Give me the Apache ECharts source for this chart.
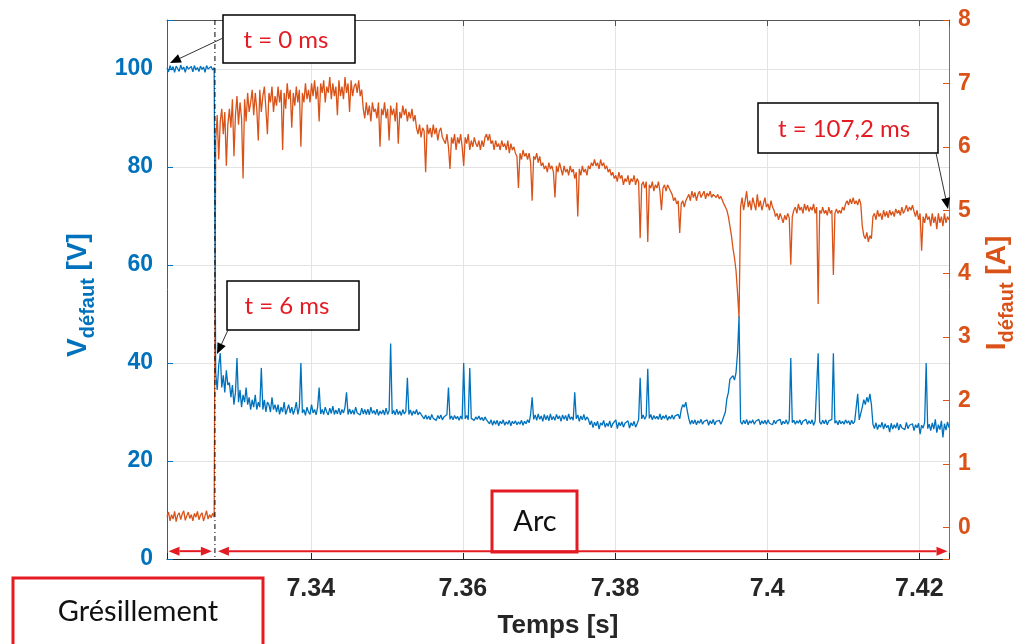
<!DOCTYPE html>
<html><head><meta charset="utf-8">
<script src="https://cdn.jsdelivr.net/npm/echarts@6/dist/echarts.min.js"></script>
<style>html,body{margin:0;padding:0;background:#fff}#c{width:1025px;height:644px}</style>
</head><body><div id="c"></div>
<script>
// Sampling of the recorded signals (s)
const tStart = 7.3211;
const tStep = 0.0002;
const transitionT = 7.3274;

// Fault current I_défaut [A] (right axis)
const current = [
0.17,0.24,0.1,0.2,0.13,0.25,0.09,0.19,0.23,0.12,
0.21,0.26,0.11,0.18,0.24,0.14,0.2,0.1,0.22,0.16,
0.25,0.12,0.19,0.23,0.1,0.18,0.26,0.13,0.2,0.15,
0.22,0.16,
6.1,6.5,5.8,6.4,6.6,6.2,6.55,5.7,6.35,6.6,
6.3,6.75,5.85,6.5,6.8,6.35,6.7,6.45,5.5,6.75,
6.4,6.85,6.55,6.7,6.9,6.5,6.85,6.6,6.1,6.9,
6.55,6.8,6.95,6.6,6.2,6.85,6.7,6.95,6.55,6.8,
6.65,6.95,6.7,6.9,5.95,6.85,6.6,7.0,6.75,6.9,
6.3,6.85,6.65,6.95,6.7,6.9,6.0,6.85,6.7,7.0,
6.75,6.9,6.7,7.0,6.8,7.05,6.75,6.95,6.4,7.0,
6.85,7.05,6.7,6.95,6.85,7.1,6.75,7.0,6.8,6.95,
6.5,7.05,6.8,6.95,6.75,7.1,6.85,7.0,6.55,7.05,
6.8,6.95,7.0,6.85,7.05,6.8,6.9,6.6,6.45,6.7,
6.5,6.65,6.4,6.7,6.55,6.6,6.45,6.7,6.0,6.6,
6.5,6.7,6.45,6.6,6.1,6.65,6.5,6.6,6.4,6.7,
6.05,6.55,6.45,6.65,6.5,6.6,6.4,6.55,6.45,6.6,
6.4,6.5,6.3,6.2,6.35,6.15,6.3,6.25,5.6,6.35,
6.2,6.3,6.15,6.35,6.2,6.3,6.1,6.25,6.3,6.15,
6.15,6.05,6.2,6.0,5.65,6.15,6.05,6.2,5.95,6.15,
6.05,6.2,6.0,5.7,6.15,6.05,6.2,5.95,6.1,6.0,
6.15,6.05,6.0,6.1,5.95,6.1,6.0,6.15,6.2,6.1,
6.2,6.05,6.1,5.95,6.1,6.0,6.05,5.95,6.1,6.0,
6.05,5.95,6.1,5.9,6.05,5.95,6.0,5.9,5.85,5.35,
5.9,5.8,5.95,5.85,5.9,5.8,5.9,5.75,5.15,5.85,
5.8,5.9,5.75,5.85,5.7,5.75,5.65,5.7,5.6,5.75,
5.65,5.7,5.6,5.2,5.7,5.6,5.75,5.65,5.55,5.7,
5.6,5.65,5.55,5.7,5.6,5.65,5.5,5.6,4.9,5.65,
5.55,5.7,5.6,5.65,5.55,5.7,5.65,5.75,5.7,5.8,
5.7,5.75,5.65,5.8,5.7,5.75,5.65,5.7,5.6,5.65,
5.55,5.6,5.5,5.55,5.45,5.6,5.5,5.55,5.4,5.5,
5.45,5.55,5.4,5.5,5.45,5.55,5.4,5.5,5.45,4.56,
5.4,5.45,5.35,5.45,4.5,5.4,5.35,5.45,5.3,5.4,
5.35,5.45,5.3,5.0,5.35,5.4,5.3,5.4,5.35,5.3,
5.25,5.15,5.2,5.1,5.15,4.64,5.1,5.15,5.05,5.15,
5.2,5.25,5.15,5.3,5.2,5.28,5.15,5.25,5.3,5.2,
5.25,5.3,5.18,5.27,5.22,5.3,5.2,5.25,5.28,5.2,
5.25,5.18,5.22,5.2,5.1,5.05,5.0,4.9,4.75,4.6,
4.4,4.25,4.05,3.7,3.3,5.05,5.2,5.0,5.15,5.3,
5.05,5.15,5.0,5.2,5.1,5.0,5.25,5.05,5.15,5.0,
5.1,5.2,5.05,5.1,5.0,5.15,5.05,5.0,4.9,4.95,
4.85,4.95,4.88,4.8,4.92,4.85,4.95,4.88,4.14,4.9,
5.0,5.05,4.95,5.1,5.0,5.05,4.95,5.1,5.0,5.08,
4.98,5.05,5.0,5.1,4.95,5.05,3.52,5.0,4.95,5.05,
4.95,5.0,4.92,5.05,4.95,5.0,3.98,4.95,5.02,4.95,
5.0,4.95,5.05,5.0,5.1,5.15,5.08,5.18,5.1,5.2,
5.1,5.15,5.08,5.18,5.1,4.75,4.6,4.55,4.65,4.5,
4.6,4.55,4.9,4.95,4.85,5.0,4.9,4.95,4.85,5.0,
4.9,4.98,4.88,5.0,4.92,4.98,4.9,5.02,4.95,5.0,
4.92,5.05,4.95,5.0,5.08,4.98,5.05,5.0,5.08,4.98,
4.9,5.0,4.85,4.95,4.36,4.9,4.8,4.95,4.85,4.9,
4.75,4.95,4.8,4.9,4.7,4.95,4.8,4.9,4.75,4.95,
4.8,4.9,4.85
];

// Fault voltage V_défaut [V] (left axis)
const voltage = [
100.2,99.4,100.7,99.8,100.5,99.3,100.6,100.1,99.5,100.8,
99.9,100.4,99.3,100.6,100,99.6,100.5,99.4,100.7,99.8,
100.3,99.5,100.6,99.9,100.4,99.3,100.7,100,99.6,100.5,
99.8,100.3,
38,34.5,39.5,42,35,37.5,34,38.5,35.5,36,
33,35.5,31.5,34,41,32,34.5,31,33.5,32,
35,31.5,33,30.5,32.5,31,33.5,30.5,32,31,
39,30.5,32.5,30,32,31.5,30,33,30.5,31.5,
30,31.5,29.5,31,30,32,29.5,30.5,31.5,29.8,
31,29.5,30.5,32,29.5,31,40,29.8,30.5,29.3,
31,30,29.5,31.5,29.8,30.5,29.4,31,35,29.6,
30.5,29.5,31,30,29.4,30.8,29.7,31.2,29.5,30.4,
29.6,30.8,29.4,30.5,29.8,31,34,29.5,30.6,29.6,
30.4,29.5,31,29.8,30.2,29.4,30.8,29.6,30.5,29.5,
30.6,29.4,31,29.7,30.3,29.5,30.6,29.3,30.2,29.6,
30.4,29.4,30.8,29.5,30.2,44,29.6,30.3,29.4,30.6,
29.5,30.2,29.3,30.5,29.6,30.1,37,29.5,30.4,29.3,
30.2,29.6,30.5,29.4,30,29.5,29.2,28.6,29.4,28.5,
29.2,28.4,29.5,28.7,29.1,28.3,29.3,28.6,29.4,28.4,
29,28.6,29.5,35,28.5,29.2,28.4,29.3,28.6,29.1,
28.3,29.2,28.5,40,28.6,29.3,28.4,39,28.7,29.1,
28.3,29,28.5,29.2,28.4,28.9,28.2,29,28.4,28.8,
27.6,28.4,27.3,28.2,27.5,28.3,27.2,28.1,27.6,28.4,
27.3,28,27.5,28.3,27.2,28.1,27.6,28.2,27.4,28,
27.5,28.3,27.3,28.1,27.6,28.4,27.8,29.5,33,28.5,
29.4,28.3,29.6,28.5,29.2,28.1,29.5,28.4,29.3,28.2,
29.6,28.4,29.1,28.3,29.5,28.6,29.2,28.1,29.4,28.5,
29.3,28.2,29.6,28.5,29,28.3,34,28.6,29.4,28.1,
29.2,28.4,29.5,28.3,29,28.5,27.4,28.2,26.8,27.9,
27.2,28.1,26.5,27.8,27.3,28.3,26.9,27.7,27.1,28.2,
26.8,27.6,27.3,28.4,26.6,27.9,27.2,28,26.9,27.7,
27.4,28.2,26.7,27.8,27.2,28.1,26.9,27.6,28.5,37,
28.6,29.4,28.5,29.2,38.8,28.7,29.5,28.4,29.3,28.6,
29.1,28.5,29.6,28.4,29.2,28.7,29.4,28.3,29.1,28.6,
29.4,28.5,29.2,28.8,29.5,28.6,30.5,31.5,31,32,
30.2,28.6,27.5,28.3,27.6,28.4,27.4,28.2,27.7,28.5,
27.5,28.1,27.7,28.4,27.3,28.2,27.6,28.5,27.4,28.1,
27.7,28.3,27.5,28.2,28.6,30,32.7,34,36.7,37,
37.4,36.5,38,42,49.5,28,27.5,28.3,27.6,28.5,
27.4,28.2,27.7,28.4,27.5,28.1,27.8,28.5,27.4,28.2,
27.6,28.3,27.5,28.4,27.7,28.1,27.4,28.3,27.6,28.2,
27.8,28.5,27.4,28.1,27.6,28.4,27.5,28.2,41,27.8,
28.3,27.5,28.2,27.7,28.4,27.4,28.1,27.8,28.5,27.5,
28.2,27.6,28.4,27.3,28.1,27.7,42,28,27.5,28.3,
27.6,28.4,27.4,28.2,27.8,28.5,42,27.7,28.2,27.4,
28.3,27.6,28.1,27.5,28.4,27.7,28.2,27.4,28.3,27.6,
28.1,27.8,33.7,28.4,28.6,31,32.5,31.5,33,32,
33.7,31.5,27.5,26.6,27.8,26.4,27.4,26.9,27.9,26.5,
27.6,26.8,27.3,25.9,27.7,26.5,27.4,26.7,27.8,26.3,
27.5,26.8,27.2,26.4,27.9,26.6,27.3,26.9,27.6,26.2,
27.4,26.8,27.7,25.5,27.3,26.7,27.9,40,26.6,27.5,
26.2,27.8,26.5,28.5,25.8,27.4,26.4,28.2,24.8,27.6,
26.3,28,26.8
];

// Phase arrows (time spans, s) and their height on the voltage axis
const spanGresillement = [7.3213, 7.3270];
const spanArc = [7.3278, 7.4237];
const arrowLevel = 1.6;

const BLUE = '#0072BD', ORANGE = '#D95319', DARK = '#262626', RED = '#e31b23', GRID = '#e3e3e3';
const n = Math.min(voltage.length, current.length);
const times = [];
for (let i = 0; i < n; i++) times.push(+(tStart + i * tStep).toFixed(5));
const tEnd = times[n - 1];
const vData = times.map((t, i) => [t, voltage[i]]);
const iData = times.map((t, i) => [t, current[i]]);

function head(x1, y1, x2, y2, color, len, hw) {
  const dx = x2 - x1, dy = y2 - y1, L = Math.hypot(dx, dy), ux = dx / L, uy = dy / L;
  const bx = x2 - ux * len, by = y2 - uy * len;
  return {base: [bx, by], el: {type: 'polygon', z: 100, shape: {points: [[x2, y2], [bx - uy * hw, by + ux * hw], [bx + uy * hw, by - ux * hw]]}, style: {fill: color}}};
}
function arrow(x1, y1, x2, y2) {
  const h = head(x1, y1, x2, y2, '#000', 11, 4.5);
  return [{type: 'line', z: 100, shape: {x1, y1, x2: h.base[0], y2: h.base[1]}, style: {stroke: '#333', lineWidth: 1}}, h.el];
}
function doubleArrow(p1, p2, color) {
  const h1 = head(p2[0], p2[1], p1[0], p1[1], color, 11, 4.5);
  const h2 = head(p1[0], p1[1], p2[0], p2[1], color, 11, 4.5);
  return [{type: 'line', z: 100, shape: {x1: h1.base[0], y1: h1.base[1], x2: h2.base[0], y2: h2.base[1]}, style: {stroke: color, lineWidth: 2}}, h1.el, h2.el];
}
function box(x, y, w, h, stroke, lw) {
  return {type: 'rect', z: 99, shape: {x, y, width: w, height: h}, style: {fill: '#fff', stroke, lineWidth: lw}};
}
function label(x, y, text, color, size) {
  return {type: 'text', z: 101, x, y, style: {text, fill: color, fontFamily: 'Lato', fontSize: size, align: 'center', verticalAlign: 'middle'}};
}
function axisTitle(x, y, main, sub, unit, color) {
  return {type: 'text', z: 101, x, y, rotation: Math.PI / 2,
    style: {text: '{a|' + main + '}{b|' + sub + '}{a| ' + unit + '}', align: 'center', verticalAlign: 'middle',
      rich: {
        a: {fill: color, fontSize: 28, fontWeight: 'bold', fontFamily: 'Liberation Sans', lineHeight: 40, verticalAlign: 'middle'},
        b: {fill: color, fontSize: 20, fontWeight: 'bold', fontFamily: 'Liberation Sans', lineHeight: 14, verticalAlign: 'bottom'}
      }}};
}

const chart = echarts.init(document.getElementById('c'), null, {renderer: 'canvas'});
const xCommon = {type: 'value', min: tStart, max: tEnd, minInterval: 0.02, maxInterval: 0.02, splitNumber: 5};
chart.setOption({
  animation: false,
  backgroundColor: '#fff',
  grid: {left: 167, right: 76, top: 20, bottom: 79},
  xAxis: [
    Object.assign({}, xCommon, {
      position: 'bottom',
      axisLine: {show: true, onZero: false, lineStyle: {color: DARK, width: 1}},
      axisTick: {show: true, inside: true, length: 6, lineStyle: {color: DARK}},
      axisLabel: {color: DARK, fontSize: 25, fontWeight: 'bold', fontFamily: 'Liberation Sans', margin: 18,
        formatter: v => Math.abs(v / 0.02 - Math.round(v / 0.02)) < 1e-6 ? String(+v.toFixed(2)) : ''},
      splitLine: {show: true, lineStyle: {color: GRID, width: 1}},
      name: 'Temps [s]', nameLocation: 'middle', nameGap: 54,
      nameTextStyle: {color: DARK, fontSize: 26, fontWeight: 'bold', fontFamily: 'Liberation Sans'}
    }),
    Object.assign({}, xCommon, {
      position: 'top',
      axisLine: {show: true, onZero: false, lineStyle: {color: '#555', width: 1}},
      axisTick: {show: true, inside: true, length: 6, lineStyle: {color: '#555'}},
      axisLabel: {show: false},
      splitLine: {show: false}
    })
  ],
  yAxis: [
    {type: 'value', position: 'left', min: 0, max: 110, interval: 20,
      axisLine: {show: true, lineStyle: {color: BLUE, width: 1}},
      axisTick: {show: true, inside: true, length: 6, lineStyle: {color: BLUE}},
      axisLabel: {color: BLUE, fontSize: 23, fontWeight: 'bold', fontFamily: 'Liberation Sans', margin: 14,
        formatter: v => v > 105 ? '' : String(v)},
      splitLine: {show: true, lineStyle: {color: GRID, width: 1}}},
    {type: 'value', position: 'right', min: -0.5, max: 8, minInterval: 1, maxInterval: 1, splitNumber: 8,
      axisLine: {show: true, lineStyle: {color: ORANGE, width: 1}},
      axisTick: {show: true, inside: true, length: 6, lineStyle: {color: ORANGE}},
      axisLabel: {color: ORANGE, fontSize: 23, fontWeight: 'bold', fontFamily: 'Liberation Sans', margin: 9,
        formatter: v => v < 0 ? '' : String(v)},
      splitLine: {show: false}}
  ],
  series: [
    {type: 'line', name: 'I', xAxisIndex: 0, yAxisIndex: 1, data: iData, showSymbol: false, symbol: 'none',
      sampling: null, lineStyle: {color: ORANGE, width: 1.3}, itemStyle: {color: ORANGE}, silent: true},
    {type: 'line', name: 'V', xAxisIndex: 0, yAxisIndex: 0, data: vData, showSymbol: false, symbol: 'none',
      sampling: null, lineStyle: {color: BLUE, width: 1.3}, itemStyle: {color: BLUE}, silent: true}
  ]
});

// Positions on the plot, obtained from the chart's own scales
const px = (t, v) => chart.convertToPixel({xAxisIndex: 0, yAxisIndex: 0}, [t, v]);
const lineTop = px(transitionT, 110), lineBot = px(transitionT, 0);
chart.setOption({
  graphic: [
    {type: 'line', z: 98, shape: {x1: lineTop[0], y1: lineTop[1], x2: lineBot[0], y2: lineBot[1]},
      style: {stroke: '#000', lineWidth: 1, lineDash: [5, 3, 1, 3]}},
    ...doubleArrow(px(spanGresillement[0], arrowLevel), px(spanGresillement[1], arrowLevel), RED),
    ...doubleArrow(px(spanArc[0], arrowLevel), px(spanArc[1], arrowLevel), RED),
    axisTitle(78, 295, 'V', 'défaut', '[V]', BLUE),
    axisTitle(997, 293, 'I', 'défaut', '[A]', ORANGE),
    ...arrow(223, 38, 170, 63),
    box(223, 15, 132, 48, '#000', 1.5), label(286, 40, 't = 0 ms', RED, 24),
    ...arrow(228, 330, 217, 354),
    box(227, 281, 132, 49, '#000', 1.5), label(287, 306, 't = 6 ms', RED, 24),
    ...arrow(936, 153, 948, 209),
    box(758, 103, 180, 50, '#000', 1.5), label(844, 129, 't = 107,2 ms', RED, 24),
    box(492, 491, 85, 61, RED, 3), label(535, 522, 'Arc', '#111', 29),
    box(13, 578, 250, 80, RED, 3), label(138, 612, 'Grésillement', '#111', 29)
  ]
});
</script>
</body></html>
